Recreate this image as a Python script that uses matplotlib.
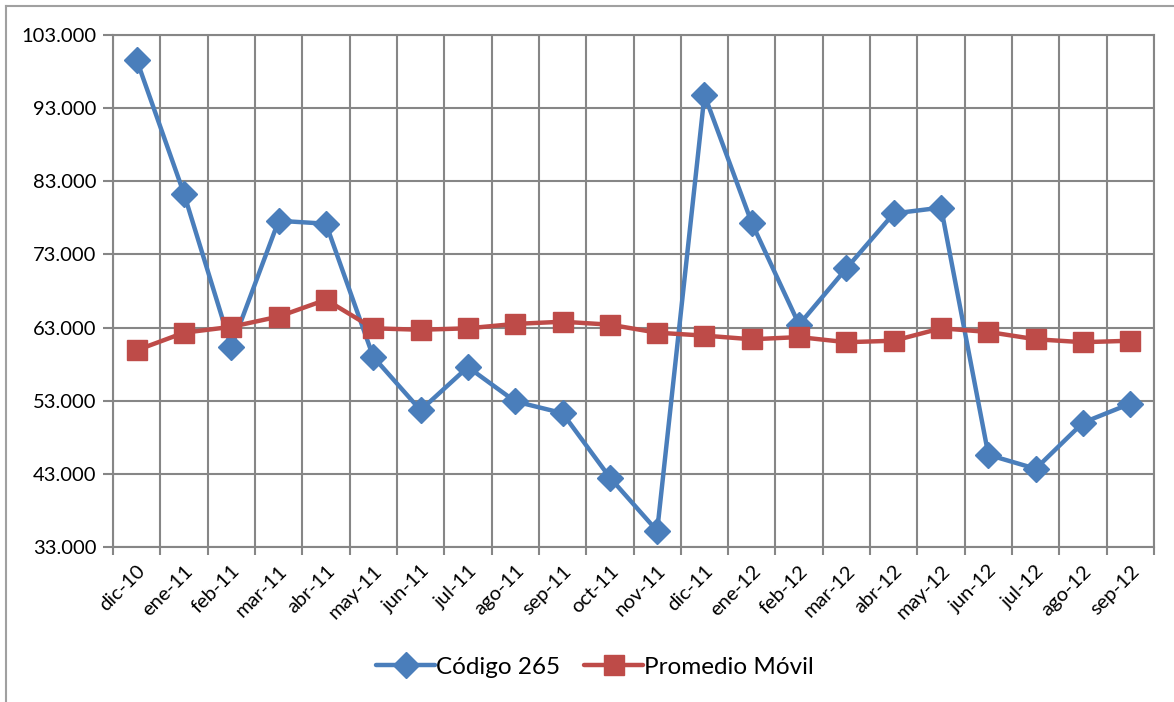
import matplotlib
matplotlib.use("Agg")
import matplotlib.pyplot as plt
from matplotlib.lines import Line2D
import numpy as np

months = ["dic-10", "ene-11", "feb-11", "mar-11", "abr-11", "may-11", "jun-11",
          "jul-11", "ago-11", "sep-11", "oct-11", "nov-11", "dic-11", "ene-12",
          "feb-12", "mar-12", "abr-12", "may-12", "jun-12", "jul-12", "ago-12", "sep-12"]
codigo = [99.6, 81.3, 60.3, 77.6, 77.2, 59.0, 51.7, 57.6, 52.9, 51.3, 42.5, 35.2,
          94.8, 77.3, 63.4, 71.1, 78.6, 79.4, 45.6, 43.7, 50.0, 52.6]
promedio = [59.9, 62.3, 63.1, 64.5, 66.8, 62.9, 62.7, 62.9, 63.5, 63.8, 63.4, 62.3,
            61.9, 61.4, 61.7, 61.0, 61.2, 62.9, 62.4, 61.4, 61.0, 61.2]
yticks = [33, 43, 53, 63, 73, 83, 93, 103]
ytick_labels = ["33.000", "43.000", "53.000", "63.000", "73.000", "83.000", "93.000", "103.000"]

plt.rcParams['font.family'] = ['Lato', 'DejaVu Sans']

fig = plt.figure(figsize=(11.74, 7.02), dpi=100)
ax = fig.add_axes([113/1174, 1-547/702, (1154-113)/1174, (547-35)/702])

x = np.arange(len(months))
blue = '#4A7EBB'
red = '#BE4B48'
grid_c = '#868686'

ax.plot(x, codigo, color=blue, lw=3.2, marker='D', ms=13, mec=blue, mfc=blue,
        label='Código 265', zorder=3)
ax.plot(x, promedio, color=red, lw=3.2, marker='s', ms=14, mec=red, mfc=red,
        label='Promedio Móvil', zorder=4)

ax.set_xlim(-0.5, len(months)-0.5)
ax.set_ylim(33, 103)
ax.set_yticks(yticks)
ax.set_yticklabels(ytick_labels, fontsize=14.5)
ax.set_xticks(x)
ax.set_xticklabels(months, fontsize=14.5, rotation=45, ha='right', rotation_mode='anchor')
ax.set_xticks(np.arange(-0.5, len(months), 1), minor=True)
ax.tick_params(axis='x', which='major', length=0, pad=11)
ax.tick_params(axis='x', which='minor', length=6, width=1.5, color=grid_c)
ax.tick_params(axis='y', length=7, width=1.5, color=grid_c, pad=5)

ax.grid(True, which='minor', axis='x', color=grid_c, lw=1.5)
ax.grid(True, which='major', axis='y', color=grid_c, lw=1.5)
ax.set_axisbelow(True)
for s in ax.spines.values():
    s.set_color(grid_c)
    s.set_linewidth(1.5)

handles = [Line2D([0], [0], color=blue, lw=3.2, marker='D', ms=13, solid_capstyle='round'),
           Line2D([0], [0], color=red, lw=3.2, marker='s', ms=14, solid_capstyle='round')]
fig.legend(handles, ['Código 265', 'Promedio Móvil'], loc='center',
           bbox_to_anchor=(595/1174, 1-667/702), ncol=2, frameon=False, fontsize=17.5,
           handlelength=2.4, handletextpad=0.05, columnspacing=1.0)

# chart-area border (clipped at right/bottom in the reference)
fig.add_artist(Line2D([6/1174, 1], [1-6/702, 1-6/702], color='#A0A0A0', lw=1.5,
                      transform=fig.transFigure))
fig.add_artist(Line2D([6/1174, 6/1174], [0, 1-6/702], color='#A0A0A0', lw=1.5,
                      transform=fig.transFigure))

fig.savefig('out.png', dpi=100)
